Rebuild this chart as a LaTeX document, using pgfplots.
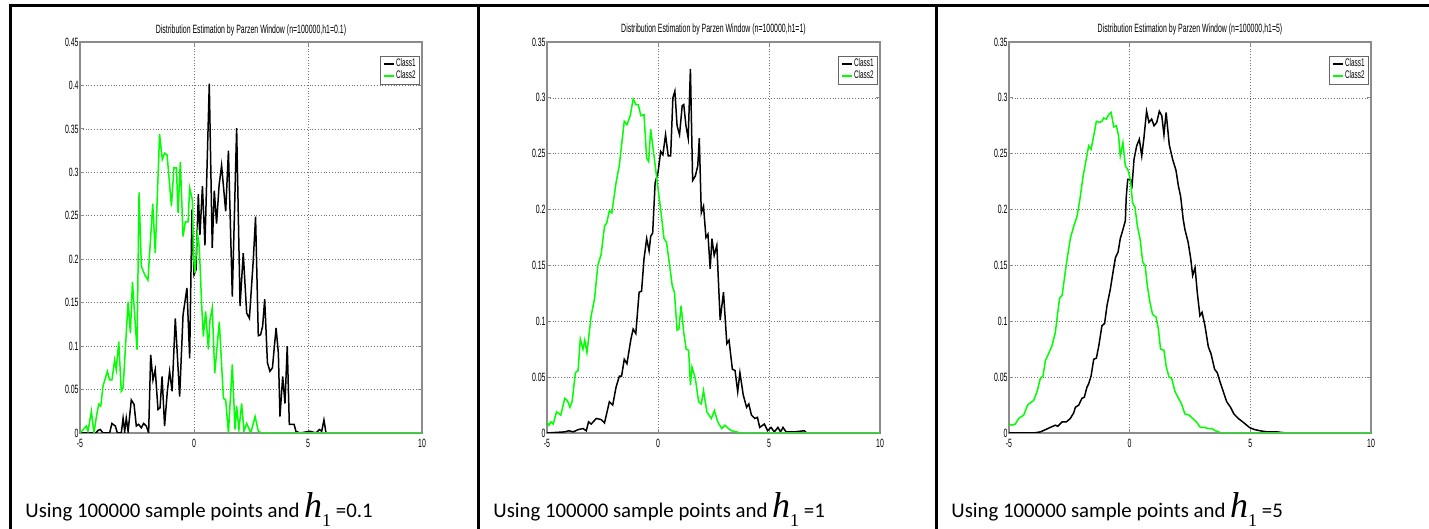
\documentclass[border=0pt]{standalone}
\usepackage{pgfplots}
\pgfplotsset{compat=1.18}
\usepackage{fontspec}
\setmainfont{Carlito}
\newfontfamily\mlfont[FakeStretch=0.58]{Liberation Sans}
\newfontfamily\tnr{Liberation Serif}

\newcommand{\capt}[1]{{\fontsize{10.4pt}{12pt}\selectfont Using 100000 sample points and {\tnr\fontsize{18pt}{18pt}\selectfont\itshape h}\raisebox{-4.5pt}{\tnr\fontsize{9pt}{9pt}\selectfont 1} =#1}}

\pgfplotsset{
 every axis title shift=0pt,
 mlstyle/.style={
  anchor=south west, scale only axis,
  xmin=-5, xmax=10, ymin=0,
  xtick={-5,0,5,10}, xticklabels={-5,0,5,10},
  grid=major,
  major grid style={densely dotted, line width=0.35pt, draw=black!55},
  axis line style={draw=black!45, line width=0.6pt},
  tick style={draw=black!45, line width=0.4pt},
  tick align=inside, major tick length=2pt,
  ticklabel style={font=\mlfont\fontsize{6pt}{6.5pt}\selectfont, inner sep=0pt},
  xticklabel style={yshift=-3pt},
  yticklabel style={xshift=-0.5pt},
  title style={font=\mlfont\fontsize{6pt}{6.5pt}\selectfont, at={(0.5,1)}, anchor=base, yshift=4.5pt, inner sep=0pt},
  legend style={at={(1,1)}, anchor=north east, xshift=-1pt, yshift=-7pt,
    font=\mlfont\fontsize{5.5pt}{5.5pt}\selectfont, draw=black!60, line width=0.4pt,
    inner xsep=1.5pt, inner ysep=0.8pt, row sep=-0.5pt,
    nodes={inner sep=0.5pt}, cells={anchor=west}},
  legend image code/.code={\draw[#1, line width=1pt] (0pt,0pt) -- (5pt,0pt);},
  every axis plot/.append style={line width=0.75pt},
 }
}

\begin{document}
\begin{tikzpicture}
\useasboundingbox (0,0) rectangle (714.5pt,264.5pt);
\fill[white] (0,0) rectangle (714.5pt,264.5pt);

% ---------------- Panel 1 ----------------
\begin{axis}[mlstyle, at={(40pt,48pt)}, width=171pt, height=195.5pt, ymax=0.45,
  ytick={0,0.05,0.1,0.15,0.2,0.25,0.3,0.35,0.4,0.45},
  yticklabels={0,0.05,0.1,0.15,0.2,0.25,0.3,0.35,0.4,0.45},
  title={Distribution Estimation by Parzen Window (n=100000,h1=0.1)}]
\addplot[black] coordinates {(-5,0)(-4.3,0)(-4.21,0.003)(-4.11,0.004)(-3.99,0)(-3.7,0)(-3.6,0.011)(-3.45,0.008)(-3.36,0)(-3.19,0)(-3.11,0.017)(-3.04,0.002)(-2.97,0.017)(-2.89,0.002)(-2.75,0.038)(-2.63,0.033)(-2.53,0.008)(-2.43,0.01)(-2.31,0.006)(-2.21,0.011)(-2.09,0.008)(-1.99,0)(-1.9,0.09)(-1.8,0.061)(-1.7,0.073)(-1.58,0.027)(-1.49,0.029)(-1.4,0.065)(-1.29,0.008)(-1.17,0.048)(-1.07,0.071)(-0.96,0.048)(-0.82,0.132)(-0.63,0.042)(-0.48,0.136)(-0.31,0.167)(-0.19,0.086)(-0.09,0.257)(0,0.182)(0.09,0.188)(0.19,0.275)(0.26,0.228)(0.37,0.284)(0.48,0.216)(0.67,0.402)(0.8,0.213)(0.89,0.279)(0.99,0.241)(1.1,0.285)(1.21,0.308)(1.39,0.255)(1.51,0.325)(1.68,0.157)(1.87,0.351)(2.02,0.146)(2.16,0.207)(2.31,0.138)(2.43,0.132)(2.6,0.199)(2.7,0.249)(2.82,0.112)(2.92,0.113)(3.01,0.123)(3.1,0.154)(3.22,0.081)(3.33,0.071)(3.44,0.075)(3.6,0.121)(3.7,0.092)(3.77,0.019)(3.89,0.065)(3.99,0.034)(4.09,0.1)(4.18,0.01)(4.39,0.01)(4.47,0.002)(4.65,0)(5.09,0.002)(5.35,0)(5.5,0.004)(5.6,0.002)(5.7,0.015)(5.79,0)(10,0)};
\addplot[green] coordinates {(-5,0)(-4.72,0.008)(-4.65,0.002)(-4.5,0.025)(-4.39,0)(-4.28,0.019)(-4.18,0.033)(-4.09,0.031)(-3.99,0.054)(-3.8,0.071)(-3.7,0.061)(-3.6,0.061)(-3.48,0.084)(-3.41,0.073)(-3.3,0.105)(-3.19,0.048)(-3.11,0.052)(-2.89,0.151)(-2.79,0.115)(-2.7,0.174)(-2.5,0.096)(-2.41,0.277)(-2.31,0.192)(-2.16,0.182)(-2.02,0.176)(-1.81,0.264)(-1.7,0.207)(-1.51,0.344)(-1.39,0.315)(-1.29,0.322)(-1.18,0.32)(-0.99,0.261)(-0.88,0.305)(-0.77,0.305)(-0.7,0.253)(-0.6,0.312)(-0.48,0.226)(-0.38,0.243)(-0.26,0.243)(-0.19,0.282)(-0.07,0.268)(-0.03,0.207)(0.04,0.184)(0.15,0.23)(0.23,0.215)(0.34,0.146)(0.41,0.111)(0.51,0.14)(0.63,0.096)(0.7,0.13)(0.8,0.144)(0.91,0.069)(1.11,0.128)(1.29,0.04)(1.39,0.038)(1.51,0)(1.68,0.079)(1.8,0.004)(1.87,0.031)(1.97,0.004)(2.09,0.034)(2.19,0.002)(2.31,0.011)(2.49,0)(2.68,0.019)(2.82,0.002)(2.97,0)(10,0)};
\legend{Class1,Class2}
\end{axis}

% ---------------- Panel 2 ----------------
\begin{axis}[mlstyle, at={(273.5pt,48pt)}, width=166.5pt, height=195.5pt, ymax=0.35,
  ytick={0,0.05,0.1,0.15,0.2,0.25,0.3,0.35},
  yticklabels={0,0.05,0.1,0.15,0.2,0.25,0.3,0.35},
  title={Distribution Estimation by Parzen Window (n=100000,h1=1)}]
\addplot[black] coordinates {(-5,0)(-4.2,0.001)(-4.02,0.002)(-3.82,0.001)(-3.6,0.003)(-3.38,0.004)(-3.23,0.002)(-3.13,0.01)(-3.01,0.008)(-2.78,0.013)(-2.56,0.012)(-2.41,0.009)(-2.19,0.028)(-2.04,0.025)(-1.89,0.041)(-1.74,0.051)(-1.64,0.051)(-1.52,0.066)(-1.4,0.062)(-1.22,0.084)(-1.12,0.093)(-1,0.089)(-0.85,0.126)(-0.74,0.127)(-0.63,0.156)(-0.51,0.174)(-0.4,0.163)(-0.33,0.176)(-0.24,0.179)(-0.13,0.224)(0,0.233)(0.12,0.252)(0.22,0.249)(0.34,0.267)(0.46,0.248)(0.57,0.248)(0.67,0.3)(0.76,0.306)(0.86,0.275)(0.97,0.267)(1.09,0.293)(1.16,0.294)(1.26,0.275)(1.36,0.264)(1.46,0.326)(1.56,0.226)(1.68,0.23)(1.79,0.239)(1.86,0.264)(1.95,0.197)(2.05,0.203)(2.16,0.175)(2.25,0.178)(2.35,0.147)(2.43,0.174)(2.53,0.159)(2.65,0.168)(2.8,0.101)(2.95,0.126)(3.1,0.08)(3.2,0.083)(3.35,0.057)(3.47,0.056)(3.59,0.037)(3.69,0.054)(3.84,0.034)(3.99,0.023)(4.09,0.026)(4.21,0.016)(4.36,0.013)(4.48,0.014)(4.58,0.005)(4.79,0.008)(4.94,0.002)(5.09,0.005)(5.24,0.001)(5.4,0.005)(5.52,0.001)(5.63,0.005)(5.77,0.001)(6.15,0.001)(6.59,0.002)(6.7,0)(10,0)};
\addplot[green] coordinates {(-5,0.01)(-4.91,0.007)(-4.82,0.01)(-4.72,0.008)(-4.57,0.019)(-4.38,0.016)(-4.2,0.031)(-4.08,0.029)(-3.97,0.023)(-3.87,0.028)(-3.72,0.054)(-3.6,0.056)(-3.5,0.084)(-3.38,0.075)(-3.3,0.083)(-3.2,0.072)(-3.01,0.105)(-2.86,0.12)(-2.71,0.15)(-2.56,0.16)(-2.41,0.185)(-2.31,0.188)(-2.19,0.199)(-2.08,0.197)(-1.89,0.224)(-1.74,0.24)(-1.52,0.279)(-1.4,0.276)(-1.25,0.284)(-1.12,0.299)(-1,0.294)(-0.89,0.294)(-0.77,0.284)(-0.63,0.285)(-0.51,0.246)(-0.42,0.243)(-0.33,0.272)(-0.18,0.248)(-0.03,0.224)(0.12,0.2)(0.27,0.174)(0.38,0.171)(0.49,0.155)(0.64,0.132)(0.74,0.126)(0.86,0.092)(0.94,0.093)(1.04,0.114)(1.16,0.09)(1.27,0.075)(1.38,0.074)(1.46,0.043)(1.53,0.059)(1.68,0.049)(1.83,0.028)(1.95,0.026)(2.05,0.038)(2.2,0.019)(2.4,0.013)(2.54,0.02)(2.69,0.01)(2.87,0.004)(3.02,0.007)(3.17,0.004)(3.32,0.002)(3.54,0.001)(3.69,0)(10,0)};
\legend{Class1,Class2}
\end{axis}

% ---------------- Panel 3 ----------------
\begin{axis}[mlstyle, at={(504.5pt,48pt)}, width=181pt, height=195.5pt, ymax=0.35,
  ytick={0,0.05,0.1,0.15,0.2,0.25,0.3,0.35},
  yticklabels={0,0.05,0.1,0.15,0.2,0.25,0.3,0.35},
  title={Distribution Estimation by Parzen Window (n=100000,h1=5)}]
\addplot[black] coordinates {(-5,0)(-3.98,0)(-3.7,0.001)(-3.49,0.003)(-3.29,0.005)(-3.08,0.007)(-2.98,0.006)(-2.8,0.01)(-2.62,0.01)(-2.46,0.013)(-2.32,0.018)(-2.25,0.023)(-2.11,0.025)(-1.98,0.031)(-1.88,0.032)(-1.77,0.041)(-1.7,0.044)(-1.6,0.051)(-1.49,0.066)(-1.38,0.067)(-1.28,0.078)(-1.15,0.096)(-1.04,0.098)(-0.94,0.114)(-0.8,0.129)(-0.69,0.144)(-0.59,0.157)(-0.48,0.162)(-0.39,0.174)(-0.28,0.182)(-0.18,0.19)(-0.14,0.212)(-0.08,0.227)(0.03,0.227)(0.1,0.222)(0.18,0.245)(0.29,0.257)(0.4,0.263)(0.5,0.248)(0.59,0.264)(0.7,0.288)(0.8,0.278)(0.91,0.281)(1.01,0.275)(1.12,0.278)(1.23,0.288)(1.33,0.284)(1.42,0.267)(1.51,0.287)(1.64,0.258)(1.78,0.245)(1.92,0.235)(2.02,0.221)(2.11,0.212)(2.22,0.191)(2.29,0.182)(2.42,0.171)(2.53,0.156)(2.61,0.141)(2.71,0.148)(2.8,0.126)(2.91,0.105)(3,0.108)(3.12,0.096)(3.26,0.077)(3.37,0.071)(3.52,0.057)(3.63,0.054)(3.74,0.046)(3.88,0.037)(4.02,0.028)(4.18,0.023)(4.32,0.017)(4.5,0.013)(4.68,0.01)(4.85,0.007)(4.96,0.005)(5.06,0.004)(5.19,0.003)(5.4,0.002)(5.68,0.001)(6.09,0.001)(6.5,0)(10,0)};
\addplot[green] coordinates {(-5,0.008)(-4.88,0.007)(-4.74,0.008)(-4.6,0.013)(-4.39,0.016)(-4.23,0.025)(-4.12,0.027)(-3.98,0.029)(-3.84,0.037)(-3.7,0.049)(-3.59,0.051)(-3.49,0.065)(-3.36,0.071)(-3.22,0.078)(-3.08,0.09)(-2.98,0.108)(-2.9,0.121)(-2.8,0.123)(-2.67,0.144)(-2.57,0.159)(-2.46,0.174)(-2.32,0.185)(-2.18,0.194)(-2.07,0.208)(-1.93,0.23)(-1.8,0.245)(-1.7,0.257)(-1.6,0.254)(-1.49,0.266)(-1.38,0.279)(-1.24,0.278)(-1.15,0.279)(-1.08,0.282)(-0.97,0.281)(-0.87,0.285)(-0.77,0.287)(-0.66,0.274)(-0.55,0.275)(-0.46,0.266)(-0.39,0.248)(-0.28,0.26)(-0.18,0.239)(-0.08,0.236)(0.03,0.227)(0.12,0.206)(0.22,0.202)(0.32,0.185)(0.43,0.174)(0.54,0.153)(0.64,0.15)(0.73,0.132)(0.84,0.117)(0.95,0.106)(1.09,0.104)(1.19,0.093)(1.28,0.075)(1.42,0.074)(1.51,0.06)(1.63,0.05)(1.74,0.049)(1.88,0.037)(2,0.032)(2.15,0.026)(2.29,0.017)(2.46,0.016)(2.61,0.013)(2.76,0.01)(2.93,0.005)(3.12,0.005)(3.24,0.004)(3.4,0.004)(3.55,0.002)(3.81,0)(10,0)};
\legend{Class1,Class2}
\end{axis}

% ---------------- Table frame and captions ----------------
\begin{scope}[x=0.5pt,y=0.5pt]
\draw[line width=1.5pt] (8.5,523.5) -- (1429,523.5);
\draw[line width=1.5pt] (10,0) -- (10,524.25);
\draw[line width=1.5pt] (478,0) -- (478,524.25);
\draw[line width=1.5pt] (936.5,0) -- (936.5,524.25);
\node[anchor=base west, inner sep=0pt] at (25,11) {\capt{0.1}};
\node[anchor=base west, inner sep=0pt] at (493,11) {\capt{1}};
\node[anchor=base west, inner sep=0pt] at (951,11) {\capt{5}};
\end{scope}
\end{tikzpicture}
\end{document}
